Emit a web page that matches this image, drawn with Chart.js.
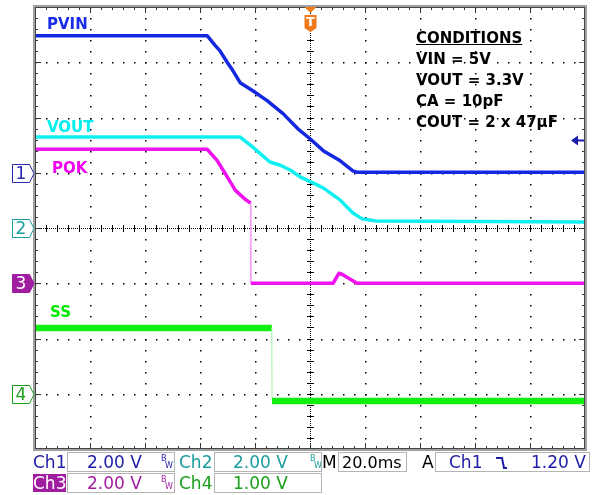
<!DOCTYPE html>
<html><head><meta charset="utf-8">
<script src="https://cdn.jsdelivr.net/npm/chart.js@4/dist/chart.umd.min.js"></script>
<style>
html,body{margin:0;padding:0;background:#fff;}
#wrap{position:relative;width:593px;height:495px;overflow:hidden;font-family:"DejaVu Sans",sans-serif;}
canvas{position:absolute;left:0;top:0;}
.t{position:absolute;white-space:nowrap;font-size:17px;line-height:17px;}
.lb{position:absolute;white-space:nowrap;font-size:15px;line-height:15px;font-weight:bold;}
.box{position:absolute;border:1px solid #b4b4b4;box-sizing:border-box;}
.bw{position:absolute;font-size:8px;line-height:8px;}
#cond{position:absolute;left:416px;top:28px;font-size:15px;line-height:21px;font-weight:bold;color:#000;white-space:nowrap;}
</style></head><body>
<div id="wrap">
<canvas id="c" width="593" height="495"></canvas>
<div class="lb" style="left:47px;top:17px;color:#1a2ce8">PVIN</div>
<div class="lb" style="left:47px;top:120px;color:#00f0f0">VOUT</div>
<div class="lb" style="left:52px;top:161px;color:#f000f0">POK</div>
<div class="lb" style="left:50px;top:305px;color:#00e800">SS</div>
<div id="cond"><span style="text-decoration:underline">CONDITIONS</span><br>VIN = 5V<br>VOUT = 3.3V<br>CA = 10pF<br>COUT = 2 x 47µF</div>

<div class="box" style="left:67px;top:452px;width:108px;height:20px"></div>
<div class="box" style="left:214px;top:452px;width:108px;height:20px"></div>
<div class="box" style="left:338px;top:452px;width:69px;height:20px"></div>
<div class="box" style="left:435px;top:452px;width:155px;height:20px"></div>
<div class="box" style="left:67px;top:473px;width:108px;height:20px"></div>
<div class="box" style="left:214px;top:473px;width:108px;height:20px"></div>

<div class="t" style="left:33px;top:454px;color:#1c1ca8">Ch1</div>
<div class="t" style="left:87px;top:454px;color:#1c1ca8">2.00 V</div>
<div class="bw" style="left:161px;top:455px;color:#1c1ca8">B</div>
<div class="bw" style="left:165px;top:462px;color:#1c1ca8">W</div>
<div class="t" style="left:179px;top:454px;color:#1a9c9c">Ch2</div>
<div class="t" style="left:233px;top:454px;color:#1a9c9c">2.00 V</div>
<div class="bw" style="left:310px;top:455px;color:#1a9c9c">B</div>
<div class="bw" style="left:314px;top:462px;color:#1a9c9c">W</div>
<div class="t" style="left:322px;top:454px;color:#000">M</div>
<div class="t" style="left:342px;top:454px;color:#000;font-size:16px">20.0ms</div>
<div class="t" style="left:422px;top:454px;color:#000">A</div>
<div class="t" style="left:449px;top:454px;color:#1c1ca8">Ch1</div>
<div class="t" style="left:531px;top:454px;color:#1c1ca8">1.20 V</div>

<div style="position:absolute;left:33px;top:474px;width:33px;height:18px;background:#a01ca0"></div>
<div class="t" style="left:33px;top:475px;color:#fff">Ch3</div>
<div class="t" style="left:87px;top:475px;color:#a01ca0">2.00 V</div>
<div class="bw" style="left:161px;top:476px;color:#a01ca0">B</div>
<div class="bw" style="left:165px;top:483px;color:#a01ca0">W</div>
<div class="t" style="left:179px;top:475px;color:#1aa01a">Ch4</div>
<div class="t" style="left:233px;top:475px;color:#1aa01a">1.00 V</div>
</div>
<script>
// ---- data (time in ms, values in volts) ----
const pvinT = [-100, -37.4, -34.6, -32.8, -30.0, -28.0, -25.4, -20.8, -15.6, -9.8, -4.4, 0, 4.8, 11.0, 15.6, 17.0, 100];
const pvinV = [4.96, 4.96, 4.62, 4.42, 3.98, 3.69, 3.26, 2.97, 2.61, 2.14, 1.59, 1.23, 0.80, 0.43, 0.07, 0.02, 0.02];
const voutT = [-100, -25.4, -20.8, -14.6, -11.0, -7.2, -3.6, 2.6, 4.8, 11.0, 15.6, 19.0, 24.0, 100];
const voutV = [3.29, 3.29, 2.93, 2.39, 2.28, 2.10, 1.85, 1.56, 1.45, 1.01, 0.54, 0.33, 0.25, 0.22];
const pokT = [-100, -37.4, -33.8, -30.2, -27.2, -23.6, -21.6, -21.5, 8.4, 10.5, 11.6, 17.1, 100];
const pokV = [4.85, 4.85, 4.45, 3.87, 3.37, 3.04, 2.90, 0.0, 0.0, 0.36, 0.33, 0.0, 0.0];
const ssT = [-100, -13.9, -13.8, 100];
const ssV = [1.19, 1.19, -0.13, -0.13];
const triggerLevel = 1.20;   // Ch1 trigger, volts
const timeDiv = 20;          // ms per division
// channel settings: volts/div and ground position (divisions from centre)
const chSet = {
  y1: {vdiv: 2, pos: 1},
  y2: {vdiv: 2, pos: 0},
  y3: {vdiv: 2, pos: -1},
  y4: {vdiv: 1, pos: -3}
};

const pts = (t, v) => t.map((x, i) => ({x: x, y: v[i]}));
function yScale(id){
  const s = chSet[id];
  return {type: 'linear', axis: 'y', position: 'left', display: false, min: (-4 - s.pos) * s.vdiv, max: (4 - s.pos) * s.vdiv};
}
const steep = (col) => ({
  borderWidth: c => Math.abs(c.p1.parsed.x - c.p0.parsed.x) < 0.5 ? 1 : undefined,
  borderColor: c => Math.abs(c.p1.parsed.x - c.p0.parsed.x) < 0.5 ? col : undefined
});

const scopePlugin = {
  id: 'scope',
  beforeDatasetsDraw(chart){
    const {ctx, chartArea: a, scales} = chart;
    const xs = scales.x, g = scales.g;
    ctx.save();
    ctx.fillStyle = '#000';
    for (let k = -4; k <= 4; k++) {
      if (k === 0) continue;
      const x = Math.round(xs.getPixelForValue(k * timeDiv));
      for (let m = -20; m <= 20; m++) {
        const y = Math.round(g.getPixelForValue(m / 5));
        ctx.fillRect(x, y, 1.5, 1.5);
      }
    }
    for (let k = -3; k <= 3; k++) {
      if (k === 0) continue;
      const y = Math.round(g.getPixelForValue(k));
      for (let m = -25; m <= 25; m++) {
        const x = Math.round(xs.getPixelForValue(m * timeDiv / 5));
        ctx.fillRect(x, y, 1.5, 1.5);
      }
    }
    const cx = Math.round(xs.getPixelForValue(0)), cy = Math.round(g.getPixelForValue(0));
    for (let y = a.top; y < a.bottom; y += 2) ctx.fillRect(cx, y, 1, 1);
    for (let x = a.left; x < a.right; x += 2) ctx.fillRect(x, cy, 1, 1);
    for (let m = -20; m <= 20; m++) {
      const y = Math.round(g.getPixelForValue(m / 5));
      ctx.fillRect(cx - 3, y, 7, 1);
    }
    for (let m = -25; m <= 25; m++) {
      const x = Math.round(xs.getPixelForValue(m * timeDiv / 5));
      ctx.fillRect(x, cy - 3, 1, 7);
    }
    ctx.fillStyle = '#333';
    for (let m = -25; m <= 25; m++) {
      const x = Math.round(xs.getPixelForValue(m * timeDiv / 5));
      const L = (m % 5 === 0) ? 6 : 3;
      ctx.fillRect(x, a.top, 1, L);
      ctx.fillRect(x, a.bottom - L, 1, L);
    }
    for (let m = -20; m <= 20; m++) {
      const y = Math.round(g.getPixelForValue(m / 5));
      const L = (m % 5 === 0) ? 6 : 3;
      ctx.fillRect(a.left, y, L, 1);
      ctx.fillRect(a.right - L, y, L, 1);
    }
    ctx.restore();
  },
  afterDraw(chart){
    const {ctx, chartArea: a, scales} = chart;
    ctx.save();
    ctx.fillStyle = '#a0a0a0';
    ctx.fillRect(a.left - 2, a.top - 2, a.right - a.left + 4, 2);
    ctx.fillRect(a.left - 2, a.bottom, a.right - a.left + 4, 2);
    ctx.fillRect(a.left - 2, a.top - 2, 2, a.bottom - a.top + 4);
    ctx.fillRect(a.right, a.top - 2, 2, a.bottom - a.top + 4);
    ctx.fillStyle = '#444';
    ctx.fillRect(a.left, a.top, 1, a.bottom - a.top);
    ctx.fillRect(a.left, a.top, a.right - a.left, 1);
    ctx.fillRect(a.right - 1, a.top, 1, a.bottom - a.top);
    ctx.fillRect(a.left, a.bottom - 1, a.right - a.left, 1);

    const marks = [
      {id: 'y1', n: '1', col: '#2a2ab0', fill: false},
      {id: 'y2', n: '2', col: '#1aa0a0', fill: false},
      {id: 'y3', n: '3', col: '#a01ca0', fill: true},
      {id: 'y4', n: '4', col: '#1aa01a', fill: false}
    ];
    ctx.font = '17px "DejaVu Sans"';
    ctx.textAlign = 'center';
    ctx.textBaseline = 'middle';
    marks.forEach(m => {
      const y = Math.round(scales[m.id].getPixelForValue(0)) + 0.5;
      const x0 = 12.5, x1 = 29.5, tip = a.left - 1;
      ctx.beginPath();
      ctx.moveTo(x0, y - 9); ctx.lineTo(x1, y - 9); ctx.lineTo(tip, y);
      ctx.lineTo(x1, y + 9); ctx.lineTo(x0, y + 9); ctx.closePath();
      ctx.lineWidth = 1;
      ctx.fillStyle = m.fill ? m.col : '#fff';
      ctx.fill();
      ctx.strokeStyle = m.col; ctx.stroke();
      ctx.fillStyle = m.fill ? '#fff' : m.col;
      ctx.fillText(m.n, 21, y + 1);
    });

    const tx = Math.round(scales.x.getPixelForValue(0)) + 0.5;
    ctx.fillStyle = '#f07a1c';
    ctx.beginPath();
    ctx.moveTo(tx - 6, a.top); ctx.lineTo(tx + 6, a.top); ctx.lineTo(tx, a.top + 6); ctx.closePath(); ctx.fill();
    ctx.beginPath();
    ctx.moveTo(tx - 6, a.top + 8); ctx.lineTo(tx + 6, a.top + 8); ctx.lineTo(tx + 6, a.top + 21);
    ctx.lineTo(tx, a.top + 25); ctx.lineTo(tx - 6, a.top + 21); ctx.closePath(); ctx.fill();
    ctx.fillStyle = '#fff';
    ctx.font = 'bold 13px "DejaVu Sans"';
    ctx.fillText('T', tx, a.top + 16);

    const ty = Math.round(scales.y1.getPixelForValue(triggerLevel)) + 0.5;
    ctx.fillStyle = '#1c1cb0';
    ctx.strokeStyle = '#1c1cb0';
    ctx.lineWidth = 2;
    ctx.beginPath(); ctx.moveTo(576, ty); ctx.lineTo(a.right - 1, ty); ctx.stroke();
    ctx.beginPath(); ctx.moveTo(571, ty); ctx.lineTo(578, ty - 5); ctx.lineTo(578, ty + 5); ctx.closePath(); ctx.fill();

    ctx.strokeStyle = '#1c1ca8';
    ctx.lineWidth = 2;
    ctx.beginPath();
    ctx.moveTo(496, 458); ctx.lineTo(502, 458); ctx.lineTo(504, 468); ctx.lineTo(507, 468);
    ctx.stroke();
    ctx.restore();
  }
};

new Chart(document.getElementById('c'), {
  type: 'line',
  data: {
    datasets: [
      {label: 'PVIN', data: pts(pvinT, pvinV), yAxisID: 'y1', borderColor: '#1428e0', borderWidth: 3.5},
      {label: 'VOUT', data: pts(voutT, voutV), yAxisID: 'y2', borderColor: '#10f0f0', borderWidth: 3.5},
      {label: 'POK', data: pts(pokT, pokV), yAxisID: 'y3', borderColor: '#f010f0', borderWidth: 3.5, segment: steep('#f7a0f7')},
      {label: 'SS', data: pts(ssT, ssV), yAxisID: 'y4', borderColor: '#10f010', borderWidth: 6.5, segment: steep('#a0f0a0')}
    ]
  },
  options: {
    responsive: false,
    devicePixelRatio: 1,
    animation: false,
    layout: {padding: {left: 35, right: 8, top: 7, bottom: 46}},
    elements: {point: {radius: 0}, line: {tension: 0, borderCapStyle: 'butt', borderJoinStyle: 'round'}},
    plugins: {legend: {display: false}, tooltip: {enabled: false}, title: {display: false}},
    scales: {
      x: {type: 'linear', axis: 'x', position: 'bottom', display: false, min: -5 * timeDiv, max: 5 * timeDiv},
      g: {type: 'linear', axis: 'y', position: 'left', display: false, min: -4, max: 4},
      y1: yScale('y1'), y2: yScale('y2'), y3: yScale('y3'), y4: yScale('y4')
    }
  },
  plugins: [scopePlugin]
});
</script>
</body></html>
